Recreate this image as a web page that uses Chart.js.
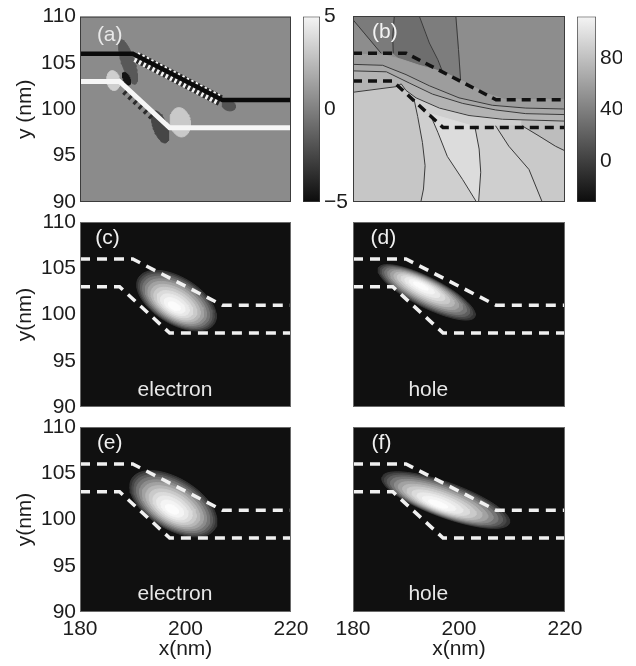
<!DOCTYPE html>
<html>
<head>
<meta charset="utf-8">
<script src="https://cdn.jsdelivr.net/npm/chart.js@4.4.1/dist/chart.umd.min.js"></script>
<style>
  html, body { margin: 0; background: #fff; }
  #fig { position: relative; width: 636px; height: 666px; overflow: hidden; background: #fff; }
  #fig canvas { position: absolute; left: 0; top: 0; }
</style>
</head>
<body>
<div id="fig">
  <canvas id="pa" width="636" height="666"></canvas>
  <canvas id="pb" width="636" height="666"></canvas>
  <canvas id="pc" width="636" height="666"></canvas>
  <canvas id="pd" width="636" height="666"></canvas>
  <canvas id="pe" width="636" height="666"></canvas>
  <canvas id="pf" width="636" height="666"></canvas>
  <canvas id="cba" width="636" height="666"></canvas>
  <canvas id="cbb" width="622" height="666"></canvas>
</div>
<script>
// ── data ──────────────────────────────────────────────────────────────────
const X_TICKS   = [180, 200, 220];
const Y_TICKS   = [90, 95, 100, 105, 110];
const CBA_TICKS = [-5, 0, 5];
const CBA_RANGE = [-5, 5];
const CBB_TICKS = [0, 40, 80];
const CBB_RANGE = [-32, 112];

// interfaces of the structure (nm)
const upperEdgeX = [180, 190, 207, 220];
const upperEdgeY = [106, 106, 101, 101];
const lowerEdgeX = [180, 187.5, 197, 220];
const lowerEdgeY = [103, 103, 98, 98];

// (a) shaded patches: centre, half axes (nm), tilt (deg), gray level
const patchCx   = [189.1, 186.3, 188.8, 195.2, 199.0, 208.2];
const patchCy   = [105.1, 103.1, 103.3, 98.1, 98.6, 100.4];
const patchA    = [4.4, 1.9, 1.3, 3.2, 2.8, 1.3];
const patchB    = [1.2, 1.2, 0.6, 1.3, 1.9, 0.95];
const patchTilt = [72, 80, 65, 70, 80, 20];
const patchGray = [88, 207, 20, 70, 201, 84];
const zebraX = [190.6, 206.6];
const zebraY = [105.65, 100.95];
const marksX = [188.5, 194.2];
const marksY = [102.0, 99.0];

// (b) filled regions and contour lines, [x, y] in nm
const wedge1   = [[180,110],[180,109.6],[185.3,106.0],[187.6,106.0],[187.5,107.8],[187.8,110]];
const wedge2   = [[187.8,110],[187.5,107.8],[187.6,106.0],[188.8,105.4],[192.5,104.7],[196.9,104.0],[196,105.3],[194.4,107.1],[192.5,110]];
const wedge3   = [[192.5,110],[194.4,107.1],[196,105.3],[196.9,104.0],[200.3,103.1],[199.9,106.4],[199.4,110]];
const bandTop  = [[180,105.9],[185.9,105.8],[188.8,105.4],[192.5,104.7],[196.9,104.0],[200.7,103.0],[205,101.7],[208.8,101.0],[220,101.0]];
const contour1 = [[180,104.8],[185.6,104.7],[190,103.7],[194.4,102.5],[200,101.2],[206.3,100.4],[212.6,100.1],[220,100.0]];
const contour2 = [[180,104.1],[186.3,104.0],[190.6,102.8],[195,101.6],[200.7,100.6],[206.9,99.9],[212.6,99.5],[220,99.4]];
const contour3 = [[180,101.8],[188.1,102.4],[189.1,102.7],[190,102.0],[191.9,101.2],[196.3,100.1],[201.9,99.3],[208.2,98.9],[220,98.7]];
const vLine1   = [[191.5,101.1],[192.2,99.2],[193.1,96.4],[193.6,93.9],[193.3,91.4],[192.8,90]];
const vLine2   = [[194.5,99.5],[196,97.5],[197.8,94.9],[200.7,92.4],[203.3,90]];
const vLine3   = [[203,98.1],[203.8,95.7],[204.1,93.2],[203.7,90]];
const vLine4   = [[206.9,98.2],[209.4,96],[213.2,93.5],[215.7,90]];
const vLine5   = [[211.9,98.2],[215.1,97.1],[218.2,96],[220,95.5]];
const line1    = [[180,109.6],[185.3,106.0]];
const line2    = [[187.8,110],[187.5,107.8],[187.6,106.0]];
const line3    = [[192.5,110],[194.4,107.1],[196,105.3],[196.9,104.0]];
const line4    = [[199.4,110],[199.9,106.4],[200.3,103.1]];

// (c)-(f) densities: outer centre x,y, peak x,y, half axes (nm), tilt (deg)
const electronC = [198.3, 101.5, 197.8, 100.8, 8.4, 4.4, 31];
const holeD     = [193.9, 102.4, 192.6, 103.2, 10.2, 2.8, 27];
const electronE = [197.7, 101.7, 197.4, 101.0, 9.2, 4.8, 31];
const holeF     = [197.5, 102.1, 195.8, 101.6, 12.8, 3.3, 20];

// ── layout / style ────────────────────────────────────────────────────────
const W = 636, H = 666;
const Y_AXIS_W = 80, X_AXIS_H = 54;
const PX_NM_X = 211 / 40, PX_NM_Y = 185 / 20;
const ASPECT = PX_NM_Y / PX_NM_X;
const FAMILY = "'Liberation Sans', Arial, Helvetica, sans-serif";
const FONT = { family: FAMILY, size: 21 };
const FONT_CSS = "21px " + FAMILY;
const INK = '#1c1c1c';
const RING_SCALE = [1, .95, .9, .84, .77, .7, .62, .54, .45, .36, .26, .15];
const RING_GRAY  = [52, 72, 94, 117, 140, 162, 183, 202, 219, 233, 244, 252];

const gray = g => `rgb(${g},${g},${g})`;
const pts = (xs, ys) => xs.map((x, i) => ({ x, y: ys[i] }));
const pairPts = arr => arr.map(([x, y]) => ({ x, y }));

function ellipsePts(cx, cy, a, b, tilt, n = 60) {
  const th = tilt * Math.PI / 180, out = [];
  for (let i = 0; i <= n; i++) {
    const t = 2 * Math.PI * i / n;
    const dx = a * Math.cos(t) * Math.cos(th) - b * Math.sin(t) * Math.sin(th);
    const dy = a * Math.cos(t) * Math.sin(th) + b * Math.sin(t) * Math.cos(th);
    out.push({ x: cx + dx, y: cy - dy / ASPECT });
  }
  return out;
}

function lineDs(data, color, width, dash) {
  return { data, showLine: true, pointRadius: 0, borderColor: color, borderWidth: width,
           borderDash: dash || [], borderCapStyle: 'butt', fill: false, clip: 0 };
}
function shapeDs(data, color) {
  return { data: data.concat([data[0]]), showLine: true, pointRadius: 0, borderColor: color,
           borderWidth: 1, fill: 'shape', backgroundColor: color, clip: 0 };
}
function blobDatasets(blob) {
  const [ocx, ocy, pcx, pcy, a, b, tilt] = blob;
  return RING_SCALE.map((s, i) => shapeDs(
    ellipsePts(pcx + (ocx - pcx) * s, pcy + (ocy - pcy) * s, a * s, b * s, tilt),
    gray(RING_GRAY[i])));
}
function edgeDatasets(color, width, dash) {
  return [lineDs(pts(upperEdgeX, upperEdgeY), color, width, dash),
          lineDs(pts(lowerEdgeX, lowerEdgeY), color, width, dash)];
}

// background, frame and in-plot texts
const deco = {
  id: 'deco',
  beforeDatasetsDraw(chart, args, o) {
    const { ctx, chartArea: a } = chart;
    if (!o.bg) return;
    ctx.save(); ctx.fillStyle = o.bg; ctx.fillRect(a.left, a.top, a.width, a.height); ctx.restore();
  },
  afterDatasetsDraw(chart, args, o) {
    const { ctx, chartArea: a, scales } = chart;
    ctx.save();
    ctx.font = FONT_CSS; ctx.textBaseline = 'middle';
    (o.texts || []).forEach(t => {
      ctx.fillStyle = t.color; ctx.textAlign = t.align;
      ctx.fillText(t.text, scales.x.getPixelForValue(t.x), scales.y.getPixelForValue(t.y));
    });
    if (o.border) {
      ctx.strokeStyle = o.border; ctx.lineWidth = 1;
      ctx.strokeRect(a.left + .5, a.top + .5, a.width - 1, a.height - 1);
    }
    ctx.restore();
  }
};

// datasets are listed back to front; Chart.js paints the first one on top
function makePanel(id, box, datasets, cfg) {
  const [l, t, r, b] = box;
  const showY = !!cfg.yTitle, showX = !!cfg.xTitle;
  new Chart(document.getElementById(id), {
    type: 'scatter',
    data: { datasets: datasets.slice().reverse() },
    options: {
      responsive: false, animation: false, devicePixelRatio: 1, events: [],
      layout: { padding: { left: showY ? l - Y_AXIS_W : l, top: t, right: W - r,
                           bottom: showX ? H - b - X_AXIS_H : H - b } },
      plugins: { legend: { display: false }, tooltip: { enabled: false },
                 deco: { bg: cfg.bg, border: cfg.border, texts: cfg.texts } },
      scales: {
        x: { type: 'linear', min: 180, max: 220, display: showX,
             afterBuildTicks: s => { s.ticks = X_TICKS.map(v => ({ value: v })); },
             afterFit: s => { s.height = showX ? X_AXIS_H : 0; },
             ticks: { color: INK, font: FONT, padding: 5, maxRotation: 0 },
             grid: { display: false, drawTicks: false }, border: { display: false },
             title: { display: showX, text: cfg.xTitle, color: INK, font: FONT, padding: { top: 0, bottom: 4 } } },
        y: { type: 'linear', min: 90, max: 110, display: showY,
             afterBuildTicks: s => { s.ticks = Y_TICKS.map(v => ({ value: v })); },
             afterFit: s => { s.width = showY ? Y_AXIS_W : 0; },
             ticks: { color: INK, font: FONT, padding: 4 },
             grid: { display: false, drawTicks: false }, border: { display: false },
             title: { display: showY, text: cfg.yTitle, color: INK, font: FONT, padding: { top: 13, bottom: 0 } } }
      }
    },
    plugins: [deco]
  });
}

function grayRamp(c) {
  const a = c.chart.chartArea;
  if (!a) return '#888';
  const g = c.chart.ctx.createLinearGradient(0, a.bottom, 0, a.top);
  g.addColorStop(0, '#0c0c0c');
  g.addColorStop(1, '#f4f4f4');
  return g;
}

function makeColorbar(id, box, canvasW, range, ticks) {
  const [l, t, r, b] = box;
  new Chart(document.getElementById(id), {
    type: 'bar',
    data: { labels: [''], datasets: [{ data: [range], backgroundColor: grayRamp, borderColor: '#3a3a3a',
            borderWidth: 1, borderSkipped: false, barPercentage: 1, categoryPercentage: 1 }] },
    options: {
      responsive: false, animation: false, devicePixelRatio: 1, events: [],
      layout: { padding: { left: l, top: t, right: 0, bottom: H - b } },
      plugins: { legend: { display: false }, tooltip: { enabled: false } },
      scales: {
        x: { display: false, afterFit: s => { s.height = 0; } },
        y: { position: 'right', min: range[0], max: range[1],
             afterBuildTicks: s => { s.ticks = ticks.map(v => ({ value: v })); },
             afterFit: s => { s.width = canvasW - r; },
             ticks: { color: INK, font: FONT, padding: 4, callback: v => String(v).replace('-', '\u2212') },
             grid: { display: false, drawTicks: false }, border: { display: false } }
      }
    }
  });
}

// ── (a) ───────────────────────────────────────────────────────────────────
const dsA = [];
[0, 1, 2, 3, 4, 5].forEach(i => dsA.push(shapeDs(
  ellipsePts(patchCx[i], patchCy[i], patchA[i], patchB[i], patchTilt[i]), gray(patchGray[i]))));
dsA.push(lineDs(pts(marksX, marksY), '#2c2c2c', 8, [3, 4]));
dsA.push(lineDs(pts(zebraX, zebraY), '#262626', 11));
dsA.push(lineDs(pts(zebraX, zebraY), '#f2f2f2', 11, [2.5, 2.5]));
dsA.push(lineDs(pts(upperEdgeX, upperEdgeY), '#0a0a0a', 4.5));
dsA.push(lineDs(pts(lowerEdgeX, lowerEdgeY), '#f6f6f6', 5));
makePanel('pa', [80, 16, 291, 202], dsA, {
  yTitle: 'y (nm)', bg: '#8b8b8b', border: '#3c3c3c',
  texts: [{ text: '(a)', x: 183.2, y: 108.0, color: '#e8e8e8', align: 'left' }]
});

// ── (b) ───────────────────────────────────────────────────────────────────
const toBottom = line => line.concat([[220, 90], [180, 90]]);
const dsB = [
  shapeDs(pairPts(wedge1), '#7b7b7b'),
  shapeDs(pairPts(wedge2), '#6e6e6e'),
  shapeDs(pairPts(wedge3), '#7d7d7d'),
  shapeDs(pairPts(toBottom(bandTop)), '#9d9d9d'),
  shapeDs(pairPts(toBottom(contour1)), '#a8a8a8'),
  shapeDs(pairPts(toBottom(contour2)), '#b3b3b3'),
  shapeDs(pairPts(toBottom(contour3)), '#c6c6c6'),
  shapeDs(pairPts(vLine1.concat([[220, 90], [220, 98.7], [208.2, 98.9], [201.9, 99.3], [196.3, 100.1]])), '#cfcfcf'),
  shapeDs(pairPts(vLine2.concat(vLine3.slice().reverse())), '#dcdcdc'),
  shapeDs(pairPts(vLine4.concat([[220, 90]], vLine5.slice().reverse())), '#c9c9c9'),
  shapeDs(pairPts(vLine5.concat([[220, 98.7], [212, 98.8]])), '#bdbdbd')
];
[line1, line2, line3, line4, contour1, contour2, contour3, vLine1, vLine2, vLine3, vLine4, vLine5]
  .forEach(c => dsB.push(lineDs(pairPts(c), '#3a3a3a', 1)));
dsB.push(...edgeDatasets('#111111', 3.5, [9, 6]));
makePanel('pb', [353, 16, 565, 202], dsB, {
  bg: '#8d8d8d', border: '#3c3c3c',
  texts: [{ text: '(b)', x: 183.6, y: 108.3, color: '#f2f2f2', align: 'left' }]
});

// ── (c)-(f) ───────────────────────────────────────────────────────────────
const WHITE_DASH = ['#f0f0f0', 3.5, [10, 7]];
makePanel('pc', [80, 222, 291, 407], blobDatasets(electronC).concat(edgeDatasets(...WHITE_DASH)), {
  yTitle: 'y(nm)', bg: '#101010', border: '#6a6a6a',
  texts: [{ text: '(c)', x: 182.9, y: 108.3, color: '#f0f0f0', align: 'left' },
          { text: 'electron', x: 198.0, y: 91.8, color: '#e8e8e8', align: 'center' }]
});
makePanel('pd', [353, 222, 565, 407], blobDatasets(holeD).concat(edgeDatasets(...WHITE_DASH)), {
  bg: '#101010', border: '#6a6a6a',
  texts: [{ text: '(d)', x: 183.3, y: 108.2, color: '#f0f0f0', align: 'left' },
          { text: 'hole', x: 194.2, y: 91.8, color: '#e8e8e8', align: 'center' }]
});
makePanel('pe', [80, 427, 291, 612], blobDatasets(electronE).concat(edgeDatasets(...WHITE_DASH)), {
  yTitle: 'y(nm)', xTitle: 'x(nm)', bg: '#101010', border: '#6a6a6a',
  texts: [{ text: '(e)', x: 183.2, y: 108.2, color: '#f0f0f0', align: 'left' },
          { text: 'electron', x: 198.0, y: 91.9, color: '#e8e8e8', align: 'center' }]
});
makePanel('pf', [353, 427, 565, 612], blobDatasets(holeF).concat(edgeDatasets(...WHITE_DASH)), {
  xTitle: 'x(nm)', bg: '#101010', border: '#6a6a6a',
  texts: [{ text: '(f)', x: 183.5, y: 108.2, color: '#f0f0f0', align: 'left' },
          { text: 'hole', x: 194.2, y: 91.9, color: '#e8e8e8', align: 'center' }]
});

// ── colour bars ───────────────────────────────────────────────────────────
makeColorbar('cba', [303, 16, 320, 202], 636, CBA_RANGE, CBA_TICKS);
makeColorbar('cbb', [577, 16, 596, 202], 622, CBB_RANGE, CBB_TICKS);
</script>
</body>
</html>
